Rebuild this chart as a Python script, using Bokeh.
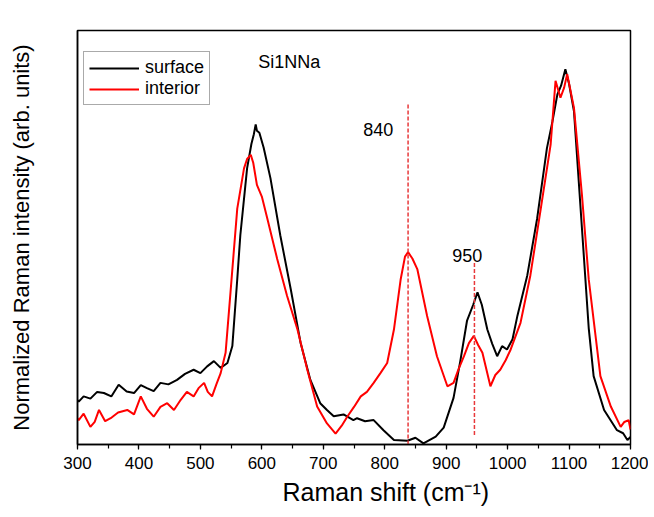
from bokeh.plotting import figure
from bokeh.models import Range1d, SingleIntervalTicker, FixedTicker, Legend, LegendItem, Label, Title
from bokeh.embed import file_html
from bokeh.resources import INLINE

# ---------------- data ----------------
surface_x = [300, 302, 310, 321, 332, 343, 355, 367, 380, 392, 403, 413, 424, 435, 448, 462, 475,
             489, 500, 511, 522, 533, 544, 552, 560,
             565, 576, 583, 587, 590, 592, 596, 603, 614, 630, 647, 663, 679, 695, 706, 717, 733, 749, 755,
             768, 782, 798, 815, 837, 850, 863, 883, 896, 912, 923, 934, 944, 951, 958, 967, 975, 983, 991,
             999, 1008, 1016, 1032, 1048, 1064, 1073, 1081, 1087, 1094, 1100, 1108, 1121, 1132, 1140, 1157,
             1178, 1188, 1195, 1200]
surface_y = [0.118, 0.114, 0.128, 0.122, 0.140, 0.137, 0.128, 0.159, 0.141, 0.137, 0.158, 0.150, 0.142, 0.164,
             0.160, 0.172, 0.188, 0.199, 0.190, 0.208, 0.222, 0.204, 0.217, 0.262, 0.440,
             0.557, 0.735, 0.800, 0.826, 0.852, 0.835, 0.830, 0.790, 0.709, 0.557, 0.414, 0.271, 0.172, 0.110,
             0.092, 0.075, 0.080, 0.065, 0.070, 0.062, 0.065, 0.038, 0.012, 0.010, 0.018, 0.003, 0.021, 0.045,
             0.124, 0.222, 0.330, 0.372, 0.405, 0.372, 0.306, 0.268, 0.235, 0.262, 0.253, 0.280, 0.343, 0.450,
             0.601, 0.789, 0.860, 0.932, 0.955, 0.999, 0.960, 0.887, 0.575, 0.310, 0.182, 0.092,
             0.038, 0.030, 0.012, 0.020]

interior_x = [300, 302, 310, 321, 328, 335, 345, 354, 366, 381, 392, 403, 413, 424, 435, 446, 457, 468,
              478, 489, 497, 506, 512, 519, 526, 533, 541,
              549, 560, 571, 576, 582, 586, 592, 600, 609, 625, 641, 658, 674, 690, 706, 720, 730, 739, 750,
              761, 771, 782, 793, 804, 815, 826, 833, 838, 845, 853, 869, 885, 902, 912, 920, 929, 937, 945,
              952, 959, 972, 980, 988, 997, 1005, 1021, 1037, 1054, 1070, 1078, 1086, 1092, 1097, 1108, 1121,
              1132, 1151, 1168, 1184, 1190, 1197, 1200]
interior_y = [0.070, 0.065, 0.082, 0.047, 0.060, 0.092, 0.062, 0.070, 0.085, 0.092, 0.080, 0.128, 0.095, 0.074,
              0.100, 0.110, 0.092, 0.119, 0.140, 0.128, 0.150, 0.164, 0.140, 0.128, 0.160, 0.190, 0.244,
              0.405, 0.628, 0.735, 0.760, 0.771, 0.750, 0.691, 0.660, 0.601, 0.494, 0.396, 0.306, 0.199, 0.101,
              0.056, 0.029, 0.050, 0.074, 0.100, 0.128, 0.140, 0.164, 0.190, 0.217, 0.306, 0.440, 0.500, 0.512,
              0.495, 0.467, 0.342, 0.235, 0.155, 0.164, 0.200, 0.235, 0.270, 0.289, 0.265, 0.244, 0.155, 0.185,
              0.199, 0.225, 0.253, 0.324, 0.450, 0.628, 0.798, 0.968, 0.923, 0.950, 0.986, 0.896, 0.664,
              0.440, 0.182, 0.101, 0.047, 0.060, 0.065, 0.040]

peak_840_x = 838
peak_950_x = 946
peak_840_top = 0.905
peak_950_top = 0.485
peak_950_bottom = 0.025

FONT = "Liberation Sans"

p = figure(width=648, height=509, output_backend="svg", toolbar_location=None,
           x_range=Range1d(300, 1200), y_range=Range1d(0, 1.102),
           min_border_left=77, min_border_right=18, min_border_top=30, min_border_bottom=20)
p.xgrid.visible = False
p.ygrid.visible = False
p.outline_line_color = "black"
p.outline_line_width = 1.5
p.background_fill_color = "white"
p.border_fill_color = "white"

r1 = p.line(surface_x, surface_y, line_color="black", line_width=2)
r2 = p.line(interior_x, interior_y, line_color="#ff0000", line_width=2)

# dashed reference lines
p.segment(x0=[peak_840_x, peak_950_x], y0=[0, peak_950_bottom],
          x1=[peak_840_x, peak_950_x], y1=[peak_840_top, peak_950_top],
          line_color="#e8383a", line_width=1.5, line_dash="4 2")

# axes
xa = p.xaxis[0]
xa.ticker = SingleIntervalTicker(interval=100, num_minor_ticks=2)
xa.major_label_text_font = FONT
xa.major_label_text_font_size = "17px"
xa.major_label_text_color = "black"
xa.major_label_standoff = 7
xa.major_tick_in = 0
xa.major_tick_out = 5
xa.minor_tick_in = 0
xa.minor_tick_out = 4
xa.axis_line_width = 1.5
xa.major_tick_line_width = 1.2
xa.minor_tick_line_width = 1.2

# x-axis title (placed like the reference, right of the frame centre)
xtitle = Title(text="Raman shift (cm\u207b\u00b9)", align="left", offset=205, standoff=8,
               text_font=FONT, text_font_size="25px", text_font_style="normal",
               text_color="black")
p.add_layout(xtitle, "below")

ya = p.yaxis[0]
ya.ticker = FixedTicker(ticks=[])
ya.axis_label = "Normalized Raman intensity (arb. units)"
ya.axis_label_text_font = FONT
ya.axis_label_text_font_size = "22px"
ya.axis_label_text_font_style = "normal"
ya.axis_label_text_color = "black"
ya.axis_label_standoff = 44
ya.axis_line_width = 1.5

# legend
legend = Legend(items=[LegendItem(label="surface", renderers=[r1]),
                       LegendItem(label="interior", renderers=[r2])],
                location=(6, 339))
legend.label_text_font = FONT
legend.label_text_font_size = "18px"
legend.label_text_color = "black"
legend.glyph_width = 50
legend.glyph_height = 20
legend.label_height = 20
legend.spacing = 0
legend.padding = 5
legend.margin = 0
legend.label_standoff = 6
legend.border_line_color = "#555555"
legend.border_line_width = 1
legend.background_fill_color = "white"
legend.background_fill_alpha = 1
p.add_layout(legend)

for txt, tx, ty in [("Si1NNa", 594, 1.019), ("840", 765, 0.839), ("950", 910, 0.504)]:
    p.add_layout(Label(x=tx, y=ty, text=txt, text_font=FONT, text_font_size="18px",
                       text_baseline="middle", text_align="left", text_color="black"))

open("out.html", "w").write(file_html(p, INLINE))
